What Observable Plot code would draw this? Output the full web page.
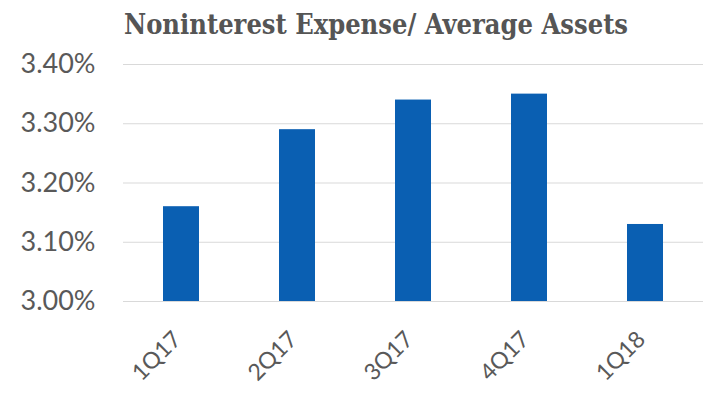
<!DOCTYPE html>
<html><head><meta charset="utf-8">
<script src="https://cdn.jsdelivr.net/npm/d3@7"></script>
<script src="https://cdn.jsdelivr.net/npm/@observablehq/plot@0.6"></script>
<style>
html,body{margin:0;padding:0;background:#fff;}
#title{font-family:"DejaVu Serif Condensed","DejaVu Serif",serif;font-weight:bold;font-size:27px;color:#555;height:40px;line-height:50px;padding-left:42px;width:668px;text-align:center;overflow:visible;white-space:nowrap;}
#chart svg text{font-family:"Lato",sans-serif;}
</style></head>
<body>
<div id="title">Noninterest Expense/ Average Assets</div>
<div id="chart"></div>
<script>
const quarters = ["1Q17","2Q17","3Q17","4Q17","1Q18"];
const values = [3.16, 3.29, 3.34, 3.35, 3.13];
const yTicks = [3.00, 3.10, 3.20, 3.30, 3.40];
const data = quarters.map((q,i)=>({q, v: values[i]}));
const chart = Plot.plot({
  width: 710, height: 354,
  marginLeft: 123, marginRight: 7, marginTop: 24, marginBottom: 93,
  style: {fontFamily: "Lato, sans-serif", background: "#fff"},
  x: {domain: quarters, paddingInner: 0.69, paddingOuter: 0.345, label: null},
  y: {domain: [3.0, 3.4], label: null},
  marks: [
    Plot.gridY(yTicks, {stroke: "#d9d9d9", strokeOpacity: 1, strokeWidth: 1}),
    Plot.barY(data, {x: "q", y1: 3.0, y2: "v", fill: "#0a5fb2"}),
    Plot.axisY(yTicks, {tickSize: 0, tickPadding: 28, tickFormat: d => d.toFixed(2) + "%", fontSize: 27, fill: "#595959", label: null}),
    Plot.axisX({tickSize: 0, tickRotate: -45, tickPadding: 34, dx: -4, fontSize: 23, fill: "#595959", label: null})
  ]
});
document.getElementById("chart").appendChild(chart);
</script>
</body></html>
